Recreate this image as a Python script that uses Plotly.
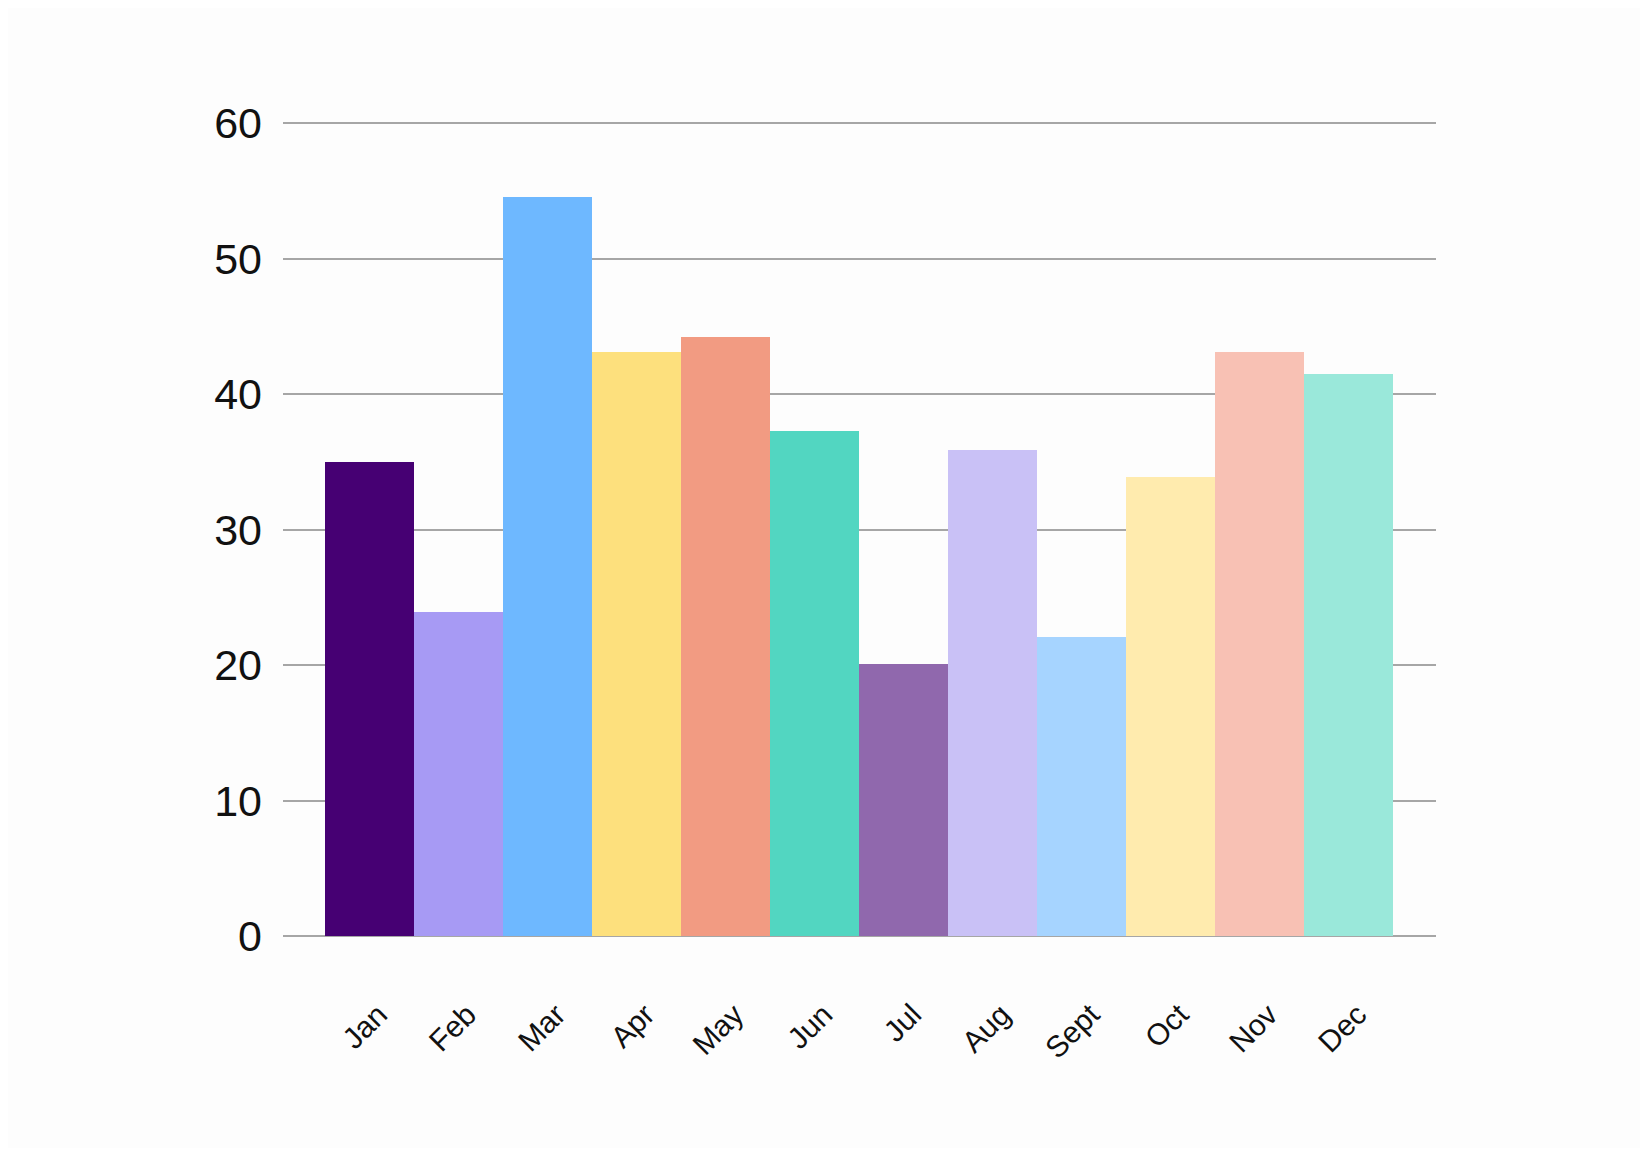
import plotly.graph_objects as go

months = ['Jan', 'Feb', 'Mar', 'Apr', 'May', 'Jun',
          'Jul', 'Aug', 'Sept', 'Oct', 'Nov', 'Dec']
values = [35.0, 23.9, 54.6, 43.1, 44.2, 37.3,
          20.1, 35.9, 22.1, 33.9, 43.1, 41.5]
colors = ['#460073', '#a79af4', '#6eb8ff', '#fde07d', '#f29b82', '#52d6c1',
          '#9068ad', '#c9c1f6', '#a6d4ff', '#ffebae', '#f8c1b4', '#9ae8da']
y_ticks = [0, 10, 20, 30, 40, 50, 60]

fig = go.Figure()
fig.add_trace(go.Bar(
    x=months,
    y=values,
    marker=dict(color=colors, line=dict(width=0)),
    hoverinfo='x+y',
))

# page body has an 8px margin, so the figure is a bit smaller than the window
fig.update_layout(
    width=1632,
    height=1140,
    margin=dict(l=275, r=204, t=112, b=212),
    paper_bgcolor='#fdfdfd',
    plot_bgcolor='#fdfdfd',
    font=dict(family='Liberation Sans, Arial, sans-serif', color='#111111'),
    bargap=0,
    showlegend=False,
)
fig.update_xaxes(
    type='category',
    range=[-0.972, 11.979],
    showgrid=False,
    showline=False,
    zeroline=False,
    tickangle=-45,
    tickfont=dict(size=30),
    ticks='',
    ticklabelstandoff=54,
    ticklabelshift=9,
)
fig.update_yaxes(
    range=[0, 60.25],
    tickvals=y_ticks,
    showgrid=True,
    gridcolor='#a6a6a6',
    gridwidth=1.5,
    zeroline=True,
    zerolinecolor='#a6a6a6',
    zerolinewidth=1.5,
    showline=False,
    tickfont=dict(size=43),
    ticks='',
    ticklabelstandoff=20,
)

fig.write_html('out.html')
